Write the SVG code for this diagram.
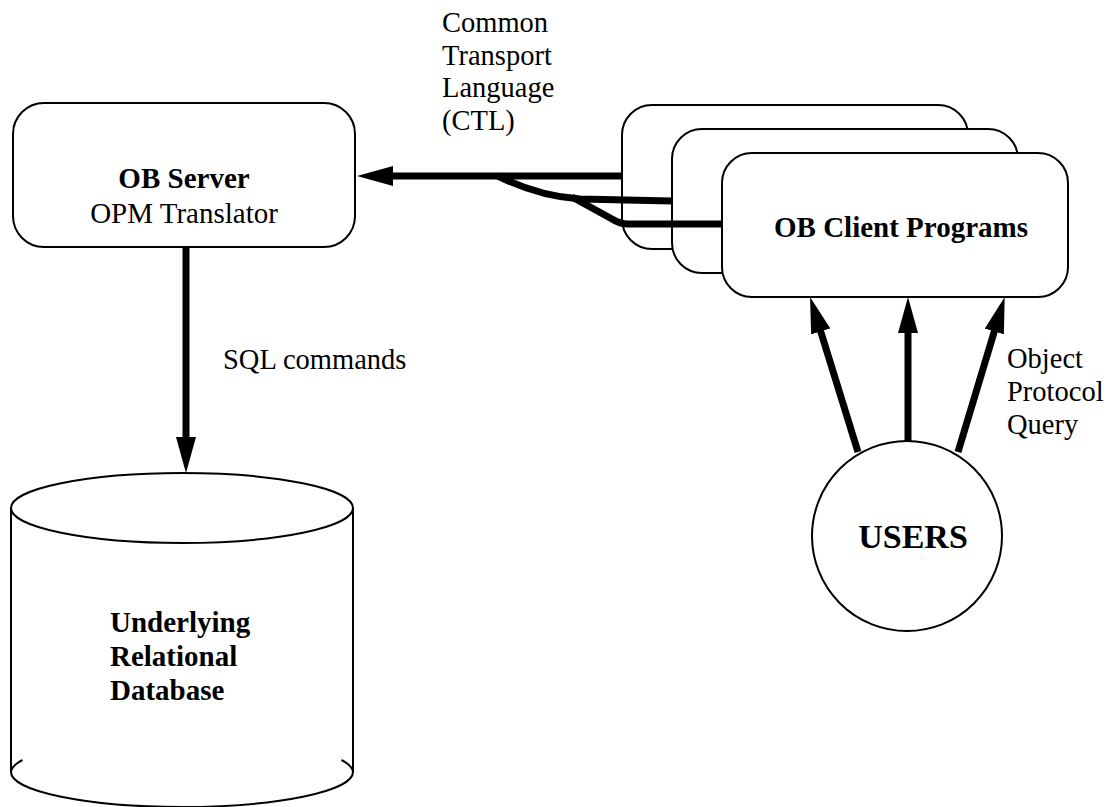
<svg xmlns="http://www.w3.org/2000/svg" width="1110" height="807" viewBox="0 0 1110 807">
<style>
.box{fill:#fff;stroke:#000;stroke-width:2}
.conn{fill:none;stroke:#000;stroke-width:7}
.b{font-weight:bold}
.lbl{font-size:28.5px}
.bt{font-size:29px}
</style>
<defs>
<marker id="ah" markerUnits="userSpaceOnUse" viewBox="0 0 36 20" refX="1" refY="10" markerWidth="36" markerHeight="20" orient="auto">
<path d="M0,0 L36,10 L0,20 z" fill="#000"/>
</marker>
</defs>
<rect width="1110" height="807" fill="#fff"/>
<g font-family="Liberation Serif, Times New Roman, serif" fill="#000">
<g id="server">
<rect class="box" x="13" y="103" width="342" height="144" rx="31" ry="31"/>
<text class="b bt" x="184" y="188" text-anchor="middle">OB Server</text>
<text class="bt" x="184" y="223" text-anchor="middle">OPM Translator</text>
</g>

<g id="database">
<path class="box" d="M11,508 L11,772 A171 35 0 0 0 353,772 L353,508"/>
<ellipse class="box" cx="182" cy="508" rx="171" ry="35"/>
<path d="M11,772 A171 35 0 0 1 22.5,760 M353,772 A171 35 0 0 0 341.5,760" fill="none" stroke="#000" stroke-width="2"/>
<text class="b bt" x="110" y="632">Underlying</text>
<text class="b bt" x="110" y="666">Relational</text>
<text class="b bt" x="110" y="700">Database</text>
</g>

<g id="clients">
<rect class="box" x="622" y="105" width="346" height="144" rx="30" ry="30"/>
<rect class="box" x="672" y="129" width="346" height="144" rx="30" ry="30"/>
<rect class="box" x="722" y="153" width="346" height="144" rx="30" ry="30"/>
<text class="b bt" x="901" y="237" text-anchor="middle">OB Client Programs</text>
</g>

<g id="users">
<circle class="box" cx="907" cy="536" r="95"/>
<text class="b" x="913" y="548" font-size="34" text-anchor="middle">USERS</text>
</g>

<g id="connectors">
<path class="conn" d="M622,176 L392,176" marker-end="url(#ah)"/>
<path class="conn" d="M672,201 L580,199 Q538,196 498,176"/>
<path class="conn" d="M722,224 L628,224 Q620,224 612,219 L572,197"/>
<path class="conn" d="M186,247 L186,438" marker-end="url(#ah)"/>
<path class="conn" d="M858,452 L820.4,330.5" marker-end="url(#ah)"/>
<path class="conn" d="M908,441 L908,332" marker-end="url(#ah)"/>
<path class="conn" d="M958,452 L994.6,330.5" marker-end="url(#ah)"/>
</g>

<g id="labels">
<text class="lbl" x="442" y="32">Common</text>
<text class="lbl" x="442" y="65">Transport</text>
<text class="lbl" x="442" y="97">Language</text>
<text class="lbl" x="442" y="130">(CTL)</text>
<text class="lbl" x="223" y="369">SQL commands</text>
<text class="lbl" x="1007" y="368">Object</text>
<text class="lbl" x="1007" y="401">Protocol</text>
<text class="lbl" x="1007" y="434">Query</text>
</g>
</g>
</svg>
